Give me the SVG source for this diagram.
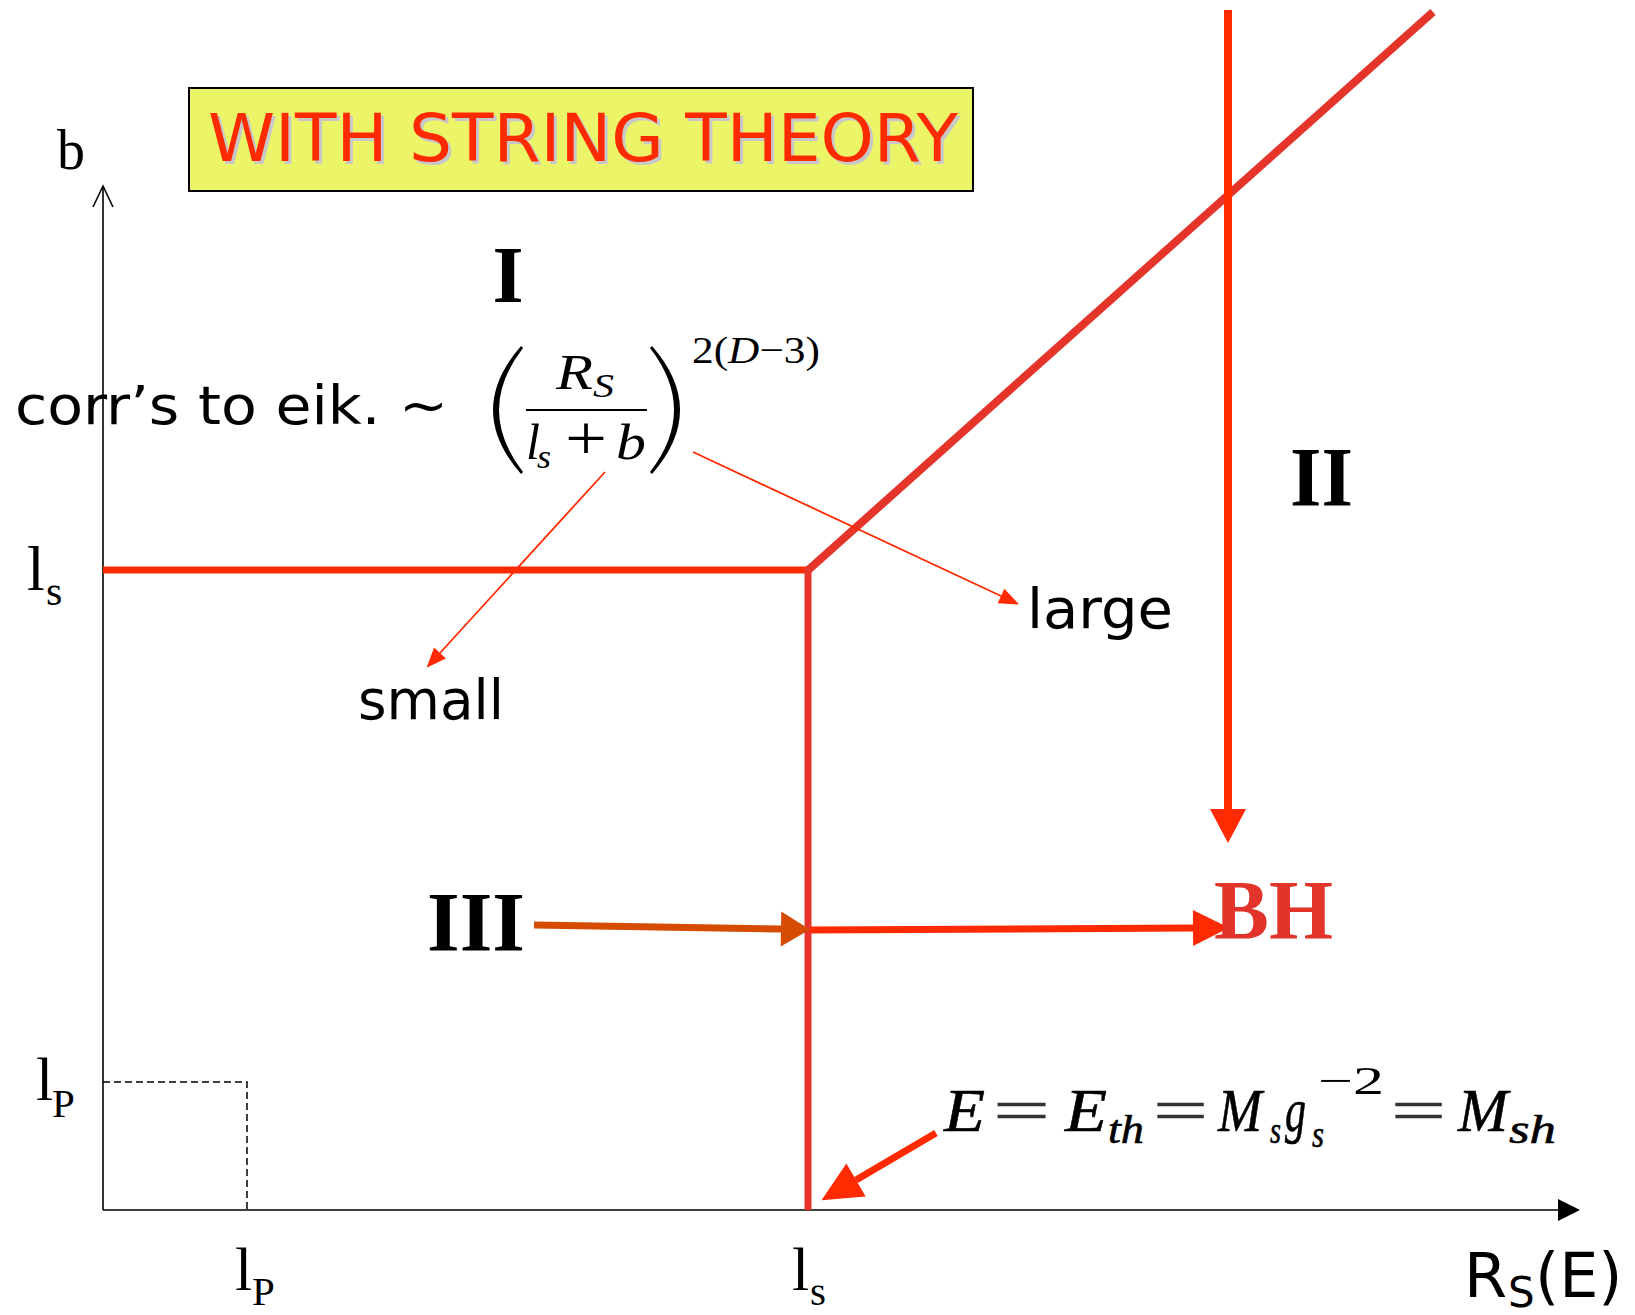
<svg xmlns="http://www.w3.org/2000/svg" width="1635" height="1315" viewBox="0 0 1635 1315">
<style>
.ser{font-family:"Liberation Serif","Times New Roman",serif}
.it{font-family:"Liberation Serif","Times New Roman",serif;font-style:italic}
.com{font-family:"DejaVu Sans","Liberation Sans",sans-serif}
.bold{font-weight:bold}
.ax{stroke:#000;stroke-width:1.6;fill:none}
.red{stroke:#ff2a00}
.dred{stroke:#e5352b}
.eq{fill:#333;stroke:#333}
</style>
<defs>
<marker id="mDown" markerUnits="userSpaceOnUse" markerWidth="40" markerHeight="40" refX="0" refY="20" orient="auto" overflow="visible"><path d="M0,2 L34,20 L0,38 z" fill="#ff2a00"/></marker>
<marker id="mOrange" markerUnits="userSpaceOnUse" markerWidth="40" markerHeight="40" refX="0" refY="20" orient="auto" overflow="visible"><path d="M0,2.5 L29,20 L0,37.5 z" fill="#d54b00"/></marker>
<marker id="mRed" markerUnits="userSpaceOnUse" markerWidth="40" markerHeight="40" refX="0" refY="20" orient="auto" overflow="visible"><path d="M0,2 L36,20 L0,38 z" fill="#ff2a00"/></marker>
<marker id="mE" markerUnits="userSpaceOnUse" markerWidth="44" markerHeight="44" refX="0" refY="20" orient="auto" overflow="visible"><path d="M0,1 L40,20 L0,39 z" fill="#ff2a00"/></marker>
<marker id="mThin" markerUnits="userSpaceOnUse" markerWidth="24" markerHeight="24" refX="0" refY="10" orient="auto" overflow="visible"><path d="M0,2 L20,10 L0,18 z" fill="#ff2a00"/></marker>
</defs>
<rect width="1635" height="1315" fill="#fff"/>

<g id="axes">
<line class="ax" x1="103" y1="1210" x2="103" y2="187"/>
<polyline class="ax" points="93,207 103,186 113,207"/>
<line class="ax" x1="103" y1="1210" x2="1560" y2="1210"/>
<path d="M1558,1199 L1580,1210 L1558,1221 z" fill="#000"/>
<path d="M103,1082 H247 V1210" stroke="#000" stroke-width="1.5" fill="none" stroke-dasharray="7,4"/>
</g>

<g id="title">
<rect x="189" y="88" width="784" height="103" fill="#ecf468" stroke="#000" stroke-width="2"/>
<text class="com" x="211" y="164" font-size="66" textLength="750" lengthAdjust="spacingAndGlyphs" fill="#c8c8c8">WITH STRING THEORY</text>
<text class="com" x="208" y="161" font-size="66" textLength="750" lengthAdjust="spacingAndGlyphs" fill="#ff2a00">WITH STRING THEORY</text>
</g>

<g id="boundaries">
<line class="red" x1="103" y1="570" x2="808" y2="570" stroke-width="7"/>
<line class="dred" x1="808" y1="567" x2="808" y2="1210" stroke-width="7"/>
<line class="dred" x1="806" y1="572" x2="1433" y2="12" stroke-width="8"/>
</g>

<g id="connectors">
<line x1="1228" y1="10" x2="1228" y2="809" stroke="#ff2a00" stroke-width="8" marker-end="url(#mDown)"/>
<line x1="534" y1="925" x2="781" y2="929" stroke="#d54b00" stroke-width="7" marker-end="url(#mOrange)"/>
<line x1="810" y1="930" x2="1193" y2="928" stroke="#ff2a00" stroke-width="7" marker-end="url(#mRed)"/>
<line x1="936" y1="1133" x2="856" y2="1180" stroke="#ff2a00" stroke-width="7" marker-end="url(#mE)"/>
<line x1="605" y1="472" x2="440" y2="653" stroke="#ff2a00" stroke-width="1.8" marker-end="url(#mThin)"/>
<line x1="693" y1="452" x2="1001" y2="596" stroke="#ff2a00" stroke-width="1.8" marker-end="url(#mThin)"/>
</g>

<g id="axis-labels">
<text class="ser" x="57" y="169" font-size="56">b</text>
<text class="ser" x="27" y="590" font-size="64">l<tspan x="46" y="605" font-size="42">s</tspan></text>
<text class="ser" x="36" y="1100" font-size="62">l<tspan x="52" y="1117" font-size="41">P</tspan></text>
<text class="ser" x="235" y="1290" font-size="62">l<tspan x="252" y="1305" font-size="41">P</tspan></text>
<text class="ser" x="792" y="1290" font-size="62">l<tspan x="810" y="1305" font-size="41">s</tspan></text>
<text class="com" font-size="62" x="1464" y="1297">R<tspan x="1508" y="1307" font-size="42">S</tspan><tspan x="1535" y="1297">(E)</tspan></text>
</g>

<g id="region-I"><text class="ser bold" x="508" y="302" font-size="80" text-anchor="middle">I</text></g>
<g id="region-II"><text class="ser bold" x="1290" y="506" font-size="84" textLength="63" lengthAdjust="spacingAndGlyphs">II</text></g>
<g id="region-III"><text class="ser bold" x="427" y="951" font-size="84" textLength="98" lengthAdjust="spacingAndGlyphs">III</text></g>
<g id="BH"><text class="ser bold" x="1214" y="939" font-size="84" textLength="119" lengthAdjust="spacingAndGlyphs" fill="#e3342c">BH</text></g>

<g id="corrections">
<text class="com" x="15" y="424" font-size="54" textLength="433" lengthAdjust="spacingAndGlyphs">corr’s to eik. ~</text>
<path d="M521,346 Q465,410 521,474 L523,472 Q475,410 523,348 Z" fill="#000"/>
<path d="M652,346 Q708,410 652,474 L650,472 Q698,410 650,348 Z" fill="#000"/>
<text class="it" x="556" y="389" font-size="50" textLength="37" lengthAdjust="spacingAndGlyphs">R</text>
<text class="it" x="593" y="397" font-size="34" textLength="21" lengthAdjust="spacingAndGlyphs">S</text>
<line x1="526" y1="410" x2="647" y2="410" stroke="#000" stroke-width="2"/>
<text class="it" x="526" y="459" font-size="50" textLength="14" lengthAdjust="spacingAndGlyphs">l</text>
<text class="it" x="537" y="468" font-size="34" textLength="14" lengthAdjust="spacingAndGlyphs">s</text>
<text class="ser" x="565" y="460" font-size="64" textLength="42" lengthAdjust="spacingAndGlyphs">+</text>
<text class="it" x="616" y="459" font-size="50" textLength="30" lengthAdjust="spacingAndGlyphs">b</text>
<text class="ser" x="692" y="363" font-size="38" textLength="128" lengthAdjust="spacingAndGlyphs">2(<tspan font-style="italic">D</tspan>−3)</text>
</g>

<g id="small"><text class="com" x="358" y="719" font-size="56" textLength="146" lengthAdjust="spacingAndGlyphs">small</text></g>
<g id="large"><text class="com" x="1027" y="628" font-size="56" textLength="146" lengthAdjust="spacingAndGlyphs">large</text></g>

<g id="threshold">
<g stroke="#000" stroke-width="0.6">
<text class="it" x="944" y="1131" font-size="62" textLength="41" lengthAdjust="spacingAndGlyphs">E</text>
<text class="ser eq" x="993" y="1131" font-size="62" textLength="57" lengthAdjust="spacingAndGlyphs">=</text>
<text class="it" x="1065" y="1131" font-size="62" textLength="42" lengthAdjust="spacingAndGlyphs">E</text>
<text class="it" x="1108" y="1143" font-size="40" textLength="36" lengthAdjust="spacingAndGlyphs">th</text>
<text class="ser eq" x="1153" y="1131" font-size="62" textLength="55" lengthAdjust="spacingAndGlyphs">=</text>
<text class="it" x="1218" y="1131" font-size="62" textLength="44" lengthAdjust="spacingAndGlyphs">M</text>
<text class="it" x="1270" y="1143" font-size="38" textLength="11" lengthAdjust="spacingAndGlyphs">s</text>
<text class="it" x="1285" y="1131" font-size="62" textLength="21" lengthAdjust="spacingAndGlyphs">g</text>
<text class="it" x="1312" y="1147" font-size="38" textLength="12" lengthAdjust="spacingAndGlyphs">s</text>
<text class="ser eq" x="1391" y="1131" font-size="62" textLength="55" lengthAdjust="spacingAndGlyphs">=</text>
<text class="it" x="1458" y="1131" font-size="62" textLength="50" lengthAdjust="spacingAndGlyphs">M</text>
<text class="it" x="1509" y="1143" font-size="40" textLength="47" lengthAdjust="spacingAndGlyphs">sh</text>
</g>
<text class="ser" x="1318" y="1094" font-size="40" textLength="66" lengthAdjust="spacingAndGlyphs">−2</text>
</g>
</svg>
